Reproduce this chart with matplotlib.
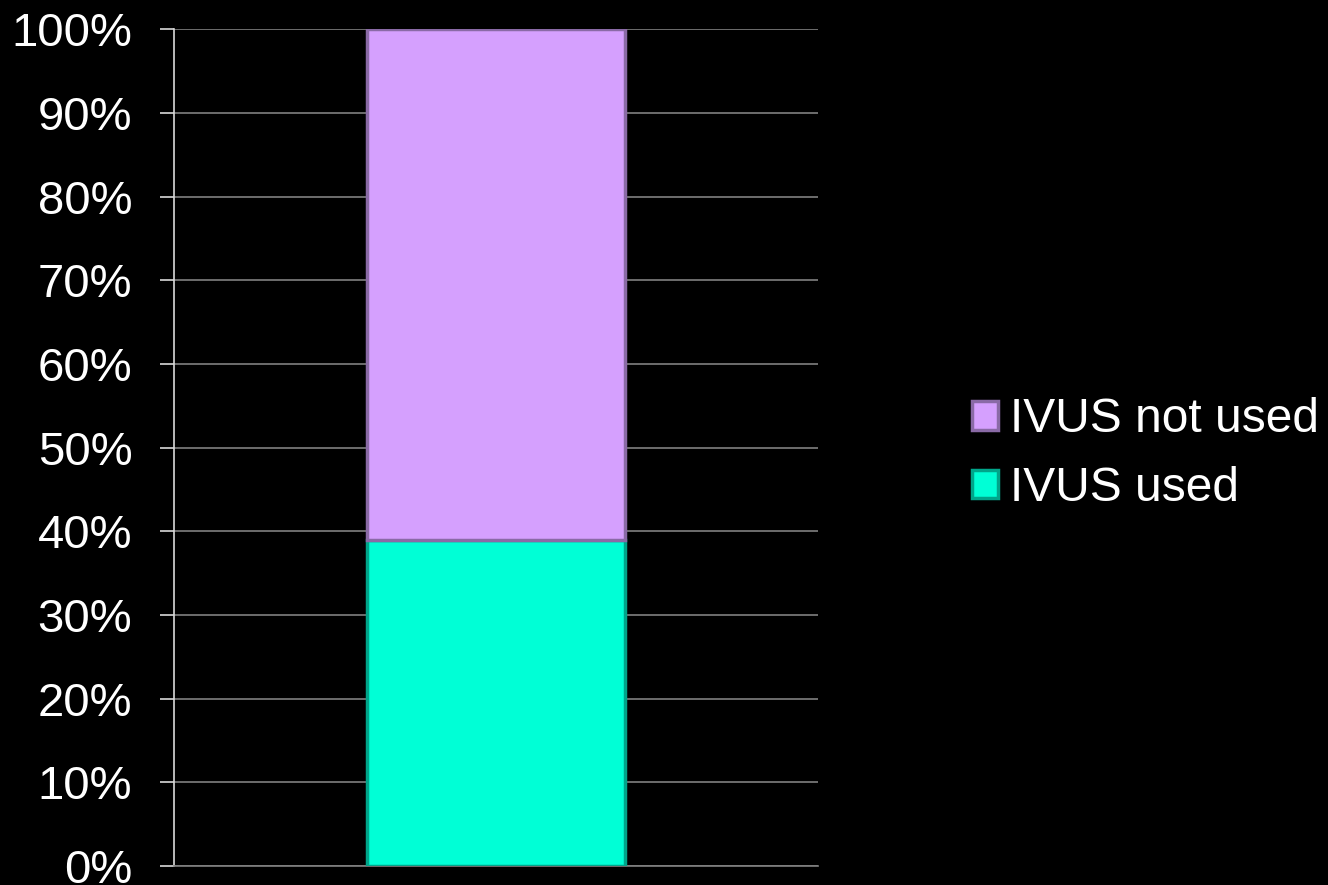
import matplotlib
matplotlib.use('agg')
import matplotlib.pyplot as plt
from matplotlib.ticker import PercentFormatter

plt.rcParams['font.family'] = ['Liberation Sans', 'DejaVu Sans']

categories = ['']
ivus_used = [39]
ivus_not_used = [61]
series_names = ['IVUS used', 'IVUS not used']
colors = ['#00FFD6', '#D5A0FE']
edge_colors = ['#00A58A', '#8A6AA6']

fig = plt.figure(figsize=(13.28, 8.85), dpi=100)
fig.patch.set_facecolor('black')
ax = fig.add_axes([0.131, 0.0215, 0.485, 0.9455])
ax.set_facecolor('black')

x = list(range(len(categories)))
b1 = ax.bar(x, ivus_used, width=0.4, color=colors[0], edgecolor=edge_colors[0],
            linewidth=2.5, label=series_names[0], zorder=3)
b2 = ax.bar(x, ivus_not_used, width=0.4, bottom=ivus_used, color=colors[1],
            edgecolor=edge_colors[1], linewidth=2.5, label=series_names[1], zorder=3)

ax.set_xlim(-0.5, 0.5)
ax.set_ylim(0, 100)
ax.set_yticks(range(0, 101, 10))
ax.yaxis.set_major_formatter(PercentFormatter(decimals=0))
ax.set_xticks([])
ax.yaxis.grid(True, color='#808080', linewidth=1.2, zorder=0)

for s in ['top', 'right']:
    ax.spines[s].set_visible(False)
ax.spines['left'].set_color('#D9D9D9')
ax.spines['left'].set_linewidth(1.2)
ax.spines['bottom'].set_color('#808080')
ax.spines['bottom'].set_linewidth(1.2)
ax.tick_params(axis='y', colors='#D9D9D9', labelcolor='white', labelsize=34,
               length=10, width=1.2, pad=20, direction='out')

handles = [b2, b1]
fig.legend(handles, [series_names[1], series_names[0]], loc='center left',
           bbox_to_anchor=(0.6995, 0.487), frameon=False, fontsize=34.5,
           labelcolor='white', handlelength=0.55, handleheight=0.55,
           handletextpad=0.25, labelspacing=0.5)

fig.savefig('out.png', dpi=100, facecolor='black')
